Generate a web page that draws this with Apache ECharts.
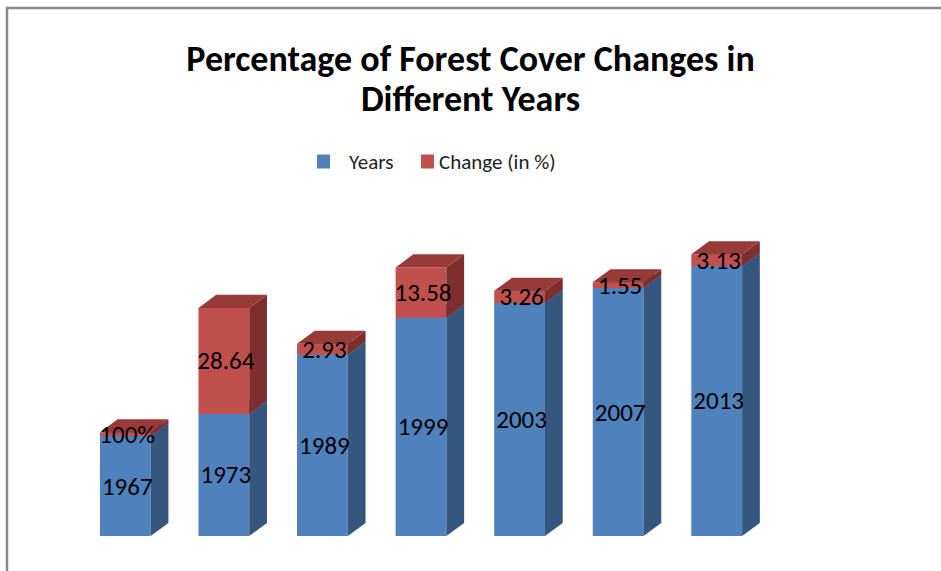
<!DOCTYPE html>
<html>
<head>
<meta charset="utf-8">
<script src="https://cdn.jsdelivr.net/npm/echarts@6/dist/echarts.min.js"></script>
<style>html,body{margin:0;padding:0;background:#fff;}#c{width:941px;height:571px;}</style>
</head>
<body>
<div id="c"></div>
<script>
// ---- data ----
var categories = ['1967', '1973', '1989', '1999', '2003', '2007', '2013'];
var yearValues = [1967, 1973, 1989, 1999, 2003, 2007, 2013];
var changeValues = [1, 28.64, 2.93, 13.58, 3.26, 1.55, 3.13];
var yearLabels = ['1967', '1973', '1989', '1999', '2003', '2007', '2013'];
var changeLabels = ['100%', '28.64', '2.93', '13.58', '3.26', '1.55', '3.13'];
var seriesNames = ['Years', 'Change (in %)'];
var axisMin = 1940, axisMax = 2040;

var FONT = 'Carlito, Lato, "Open Sans", sans-serif';

function makeRender(colors, labels) {
  return function (params, api) {
    var i = api.value(0), lo = api.value(1), hi = api.value(2);
    var pLo = api.coord([i, lo]);
    var pHi = api.coord([i, hi]);
    var band = api.size([1, 0])[0];
    var w = band * 0.515, dx = band * 0.18, dy = band * 0.133;
    var x0 = pLo[0] - w / 2, x1 = pLo[0] + w / 2;
    var yLo = pLo[1], yHi = pHi[1];
    return {
      type: 'group',
      children: [
        { type: 'rect', shape: { x: x0, y: yHi, width: w, height: yLo - yHi }, style: { fill: colors[0] } },
        { type: 'polygon', shape: { points: [[x1, yHi], [x1 + dx, yHi - dy], [x1 + dx, yLo - dy], [x1, yLo]] }, style: { fill: colors[1] } },
        { type: 'polygon', shape: { points: [[x0, yHi], [x0 + dx, yHi - dy], [x1 + dx, yHi - dy], [x1, yHi]] }, style: { fill: colors[2] } },
        { type: 'text', z2: 10, style: { text: labels[params.dataIndex], x: (x0 + x1) / 2 + 2, y: (yHi + yLo) / 2, align: 'center', verticalAlign: 'middle', fill: '#000', font: '25px ' + FONT } }
      ]
    };
  };
}

var blueData = categories.map(function (c, i) { return [i, axisMin, yearValues[i]]; });
var redData = categories.map(function (c, i) { return [i, yearValues[i], yearValues[i] + changeValues[i]]; });

var chart = echarts.init(document.getElementById('c'), null, { renderer: 'svg' });
chart.setOption({
  backgroundColor: '#fff',
  animation: false,
  title: {
    text: 'Percentage of Forest Cover Changes in\nDifferent Years',
    left: 'center', top: 34,
    padding: [5, 0, 5, 19],
    textStyle: { fontFamily: FONT, fontWeight: 'bold', fontSize: 36, lineHeight: 40, color: '#000' }
  },
  legend: [
    { data: [seriesNames[0]], left: 312, top: 146, icon: 'rect', itemWidth: 13, itemHeight: 14, textStyle: { fontFamily: FONT, fontSize: 21, color: '#222', padding: [0, 0, 0, 14] } },
    { data: [seriesNames[1]], left: 416, top: 146, icon: 'rect', itemWidth: 13, itemHeight: 14, textStyle: { fontFamily: FONT, fontSize: 21, color: '#222' } }
  ],
  grid: { left: 76, right: 175, top: 166, bottom: 35 },
  xAxis: { type: 'category', data: categories, show: false },
  yAxis: { type: 'value', min: axisMin, max: axisMax, show: false, splitLine: { show: false } },
  graphic: [
    { type: 'polyline', shape: { points: [[7, 571], [7, 8], [941, 8]] }, style: { stroke: '#8a8a8a', lineWidth: 2.5, fill: null }, silent: true }
  ],
  series: [
    { type: 'custom', name: seriesNames[0], itemStyle: { color: '#4F81BD' }, encode: { x: 0, y: [1, 2] }, data: blueData, renderItem: makeRender(['#4F81BD', '#34567F', '#3D6799'], yearLabels) },
    { type: 'custom', name: seriesNames[1], itemStyle: { color: '#C0504D' }, encode: { x: 0, y: [1, 2] }, data: redData, renderItem: makeRender(['#C0504D', '#7E2F2D', '#983B38'], changeLabels) }
  ]
});
</script>
</body>
</html>
